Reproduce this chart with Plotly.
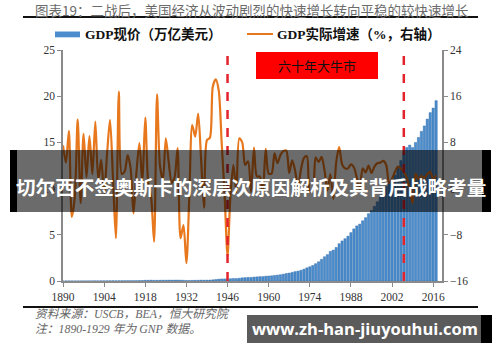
import plotly.graph_objects as go

years = list(range(1890, 2018))

gdp_growth = [
    7.5, 4.5, 10.0, -4.9, -1.5, 12.0, -2.5, 9.5, 2.0, 9.1,      # 1890-1899
    2.5, 11.6, 1.5, 5.0, -1.0, 6.0, 11.9, 1.9, -8.6, 16.8,      # 1900-1909
    2.5, 3.0, 5.8, 3.6, -4.3, 2.8, 7.9, 1.0, 12.3, 1.0,         # 1910-1919
    -1.5, -9.2, 16.3, 4.0, 1.5, 8.7, 4.5, 1.0, 2.0, 7.0,        # 1920-1929
    -8.6, -6.3, -12.9, -1.3, 11.0, 9.0, 13.0, 5.1, -3.3, 8.4,   # 1930-1939
    8.8, 17.7, 18.9, 17.0, 8.0, -1.0, -11.6, -1.1, 4.1, -0.6,   # 1940-1949
    8.7, 8.0, 4.1, 4.7, -0.6, 7.1, 2.1, 2.1, -0.7, 6.9,         # 1950-1959
    2.6, 2.6, 6.1, 4.4, 5.8, 6.5, 6.6, 2.7, 4.9, 3.1,           # 1960-1969
    0.2, 3.3, 5.3, 5.6, -0.5, -0.2, 5.4, 4.6, 5.5, 3.2,         # 1970-1979
    -0.3, 2.5, -1.8, 4.6, 7.2, 4.2, 3.5, 3.5, 4.2, 3.7,         # 1980-1989
    1.9, -0.1, 3.5, 2.8, 4.0, 2.7, 3.8, 4.4, 4.5, 4.8,          # 1990-1999
    4.1, 1.0, 1.7, 2.9, 3.8, 3.5, 2.9, 1.9, -0.1, -2.5,         # 2000-2009
    2.6, 1.6, 2.2, 1.8, 2.5, 2.9, 1.6, 2.3,                     # 2010-2017
]

gdp_nominal_bn = [
    13.1, 13.5, 14.3, 13.5, 12.3, 13.9, 13.3, 14.3, 15.2, 17.1,
    18.7, 20.7, 21.6, 22.9, 22.9, 25.0, 28.7, 30.4, 26.4, 32.2,
    33.4, 34.3, 37.4, 39.1, 36.5, 38.7, 49.6, 59.7, 75.8, 78.3,
    88.4, 73.6, 73.4, 85.4, 86.8, 90.6, 97.0, 95.5, 97.4, 104.6,
    92.2, 77.4, 59.5, 57.2, 66.8, 74.2, 84.8, 93.0, 87.4, 93.4,
    102.9, 129.3, 166.0, 203.1, 224.4, 228.0, 227.5, 249.6, 274.5, 272.5,
    299.8, 346.9, 367.3, 389.2, 390.5, 425.5, 449.4, 474.0, 481.2, 521.7,
    542.4, 562.2, 603.9, 637.5, 684.5, 742.3, 813.4, 860.0, 940.7, 1017.6,
    1073.3, 1164.9, 1279.1, 1425.4, 1545.2, 1684.9, 1873.4, 2081.8, 2351.6, 2627.3,
    2857.3, 3207.0, 3343.8, 3634.0, 4037.6, 4339.0, 4579.6, 4855.2, 5236.4, 5641.6,
    5963.1, 6158.1, 6520.3, 6858.6, 7287.2, 7639.7, 8073.1, 8577.6, 9062.8, 9631.2,
    10251.0, 10581.8, 10936.4, 11458.2, 12213.7, 13036.6, 13814.6, 14451.9, 14712.8, 14448.9,
    14992.1, 15542.6, 16197.0, 16784.9, 17527.3, 18224.8, 18715.0, 19519.4,
]
gdp_nominal_tn = [v / 1000 for v in gdp_nominal_bn]

marker_years = [1946, 2006]
x_ticks = list(range(1890, 2017, 14))
left_ticks = [0, 5, 10, 15, 20, 25]
right_ticks = [-16, -8, 0, 8, 16, 24]

title_text = "图表19：二战后，美国经济从波动剧烈的快速增长转向平稳的较快速增长"
legend_bar = "GDP现价（万亿美元）"
legend_line = "GDP实际增速（%，右轴）"
box_text = "六十年大牛市"
source1 = "资料来源：USCB，BEA，恒大研究院"
source2 = "注：1890-1929 年为 GNP 数据。"
banner_text = "切尔西不签奥斯卡的深层次原因解析及其背后战略考量"
watermark = "www.zh-han-jiuyouhui.com"

W, H = 500, 362
L, R, T, B = 63, 442, 50, 281


def px(x):
    return (x - L) / (R - L)


def py(y):
    return (B - y) / (B - T)


SERIF = "Liberation Serif, Noto Sans CJK SC, serif"
CJK = "Noto Sans CJK SC, sans-serif"
BLUE = "#4a8ccc"
ORANGE = "#E8781E"
RED = "#E3232B"

fig = go.Figure()
fig.add_trace(go.Bar(
    x=years, y=gdp_nominal_tn,
    marker=dict(color=BLUE, line=dict(width=0.4, color="#2f6aa8")),
    yaxis="y", showlegend=False, hoverinfo="skip"))
fig.add_trace(go.Scatter(
    x=years, y=gdp_growth, yaxis="y2", mode="lines",
    line=dict(color=ORANGE, width=2.2, shape="spline", smoothing=0.8),
    showlegend=False, hoverinfo="skip"))

axis_common = dict(showgrid=False, zeroline=False, showline=True,
                   linecolor="#8a8a8a", linewidth=1.5, ticks="outside",
                   ticklen=4, tickcolor="#8a8a8a",
                   tickfont=dict(family=SERIF, size=11.5, color="#333"))

shapes = []
for yr in marker_years:
    shapes.append(dict(type="line", xref="x", yref="paper", x0=yr, x1=yr,
                       y0=0, y1=py(52), line=dict(color=RED, width=2.5, dash="dash"),
                       layer="above"))
# red box
shapes.append(dict(type="rect", xref="paper", yref="paper", x0=px(256), x1=px(378),
                   y0=py(79), y1=py(52), fillcolor="#FF0000", line=dict(width=0), layer="above"))
# legend glyphs
shapes.append(dict(type="rect", xref="paper", yref="paper", x0=px(55), x1=px(80),
                   y0=py(37.3), y1=py(31.5), fillcolor=BLUE, line=dict(width=0)))
shapes.append(dict(type="line", xref="paper", yref="paper", x0=px(247), x1=px(273),
                   y0=py(34), y1=py(34), line=dict(color=ORANGE, width=2)))
# title rule and bottom rule
shapes.append(dict(type="line", xref="paper", yref="paper", x0=px(23), x1=px(478),
                   y0=py(17), y1=py(17), line=dict(color="#111", width=2)))
shapes.append(dict(type="line", xref="paper", yref="paper", x0=px(23), x1=px(478),
                   y0=py(307), y1=py(307), line=dict(color="#111", width=2)))
# banner overlay
shapes.append(dict(type="rect", xref="paper", yref="paper", x0=px(10), x1=px(491),
                   y0=py(212), y1=py(150), fillcolor="rgba(0,0,0,0.58)",
                   line=dict(width=0), layer="above"))
shapes.append(dict(type="rect", xref="paper", yref="paper", x0=px(10), x1=px(17),
                   y0=py(212), y1=py(150), fillcolor="#000", line=dict(width=0), layer="above"))
shapes.append(dict(type="rect", xref="paper", yref="paper", x0=px(482), x1=px(491),
                   y0=py(212), y1=py(150), fillcolor="#000", line=dict(width=0), layer="above"))
# watermark box
shapes.append(dict(type="rect", xref="paper", yref="paper", x0=px(247), x1=px(481),
                   y0=py(343), y1=py(315), fillcolor="#5b5b5b", line=dict(width=0), layer="above"))
shapes.append(dict(type="rect", xref="paper", yref="paper", x0=px(481), x1=px(492),
                   y0=py(343), y1=py(315), fillcolor="#000", line=dict(width=0), layer="above"))

annotations = [
    dict(text=title_text, x=px(33), y=py(10), xanchor="left", yanchor="middle",
         font=dict(family=CJK, size=13.5, color="#6b6b6b")),
    dict(text="<b>" + legend_bar + "</b>", x=px(83), y=py(34), xanchor="left", yanchor="middle",
         font=dict(family=SERIF, size=13.5, color="#111")),
    dict(text="<b>" + legend_line + "</b>", x=px(275), y=py(34), xanchor="left", yanchor="middle",
         font=dict(family=SERIF, size=13.5, color="#111")),
    dict(text=box_text, x=px(317), y=py(65.5), xanchor="center", yanchor="middle",
         font=dict(family=CJK, size=13, color="#111")),
    dict(text="<i>" + source1 + "</i>", x=px(33), y=py(314), xanchor="left", yanchor="middle",
         font=dict(family=SERIF, size=11.8, color="#666")),
    dict(text="<i>" + source2 + "</i>", x=px(33), y=py(329), xanchor="left", yanchor="middle",
         font=dict(family=SERIF, size=11.8, color="#666")),
    dict(text="<b>" + banner_text + "</b>", x=px(250.5), y=py(186), xanchor="center", yanchor="middle",
         font=dict(family=CJK, size=19.6, color="#fff")),
    dict(text="<b>" + watermark + "</b>", x=px(365), y=py(328.5), xanchor="center", yanchor="middle",
         font=dict(family="Open Sans, DejaVu Sans, sans-serif", size=16.5, color="#fff")),
]
for a in annotations:
    a.update(xref="paper", yref="paper", showarrow=False)

fig.update_layout(
    width=W, height=H,
    margin=dict(l=L, r=W - R, t=T, b=H - B, pad=0),
    paper_bgcolor="white", plot_bgcolor="white",
    bargap=0.2, showlegend=False,
    xaxis=dict(range=[1890, 2019], tickvals=x_ticks, **axis_common),
    yaxis=dict(range=[0, 25], tickvals=left_ticks, **axis_common),
    yaxis2=dict(range=[-16, 24], tickvals=right_ticks, overlaying="y", side="right",
                **axis_common),
    shapes=shapes, annotations=annotations,
)

fig.write_html("out.html",
               config={"displayModeBar": False},
               post_script="document.body.style.margin='0px';"
                           "document.body.style.overflow='hidden';")
